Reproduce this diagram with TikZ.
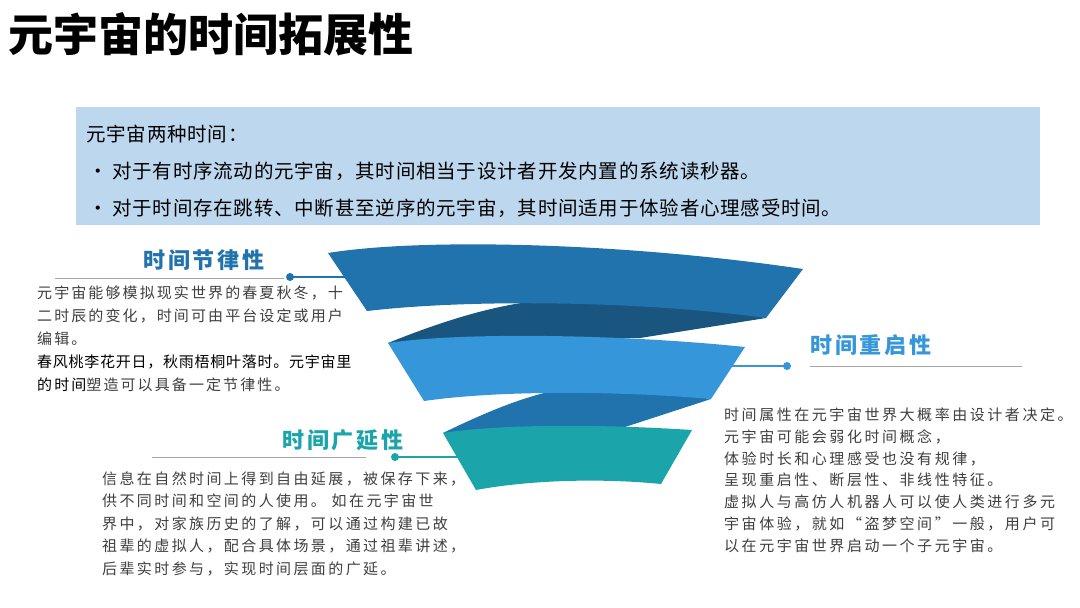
\documentclass[tikz,border=0pt]{standalone}
\usepackage{fontspec}
\setmainfont{Noto Sans CJK SC}
\definecolor{bandA}{HTML}{2173AE}
\definecolor{darkA}{HTML}{1A5580}
\definecolor{bandB}{HTML}{3597D9}
\definecolor{darkB}{HTML}{2073AD}
\definecolor{bandC}{HTML}{1BA5AB}
\definecolor{rulegray}{HTML}{A6A6A6}
\definecolor{txtgray}{HTML}{3F3F3F}
\definecolor{boxblue}{HTML}{BDD7EE}
\begin{document}
\begin{tikzpicture}[x=1pt,y=-1pt,
  body/.style={anchor=north west, inner sep=0pt, align=left, text=txtgray,
    font=\fontsize{15}{22}\selectfont},
  boxtxt/.style={anchor=west, inner sep=0pt,
    font=\fontsize{19.5}{23}\selectfont\addfontfeatures{LetterSpace=4}},
  headtxt/.style={anchor=west, inner sep=0pt,
    font=\fontsize{22}{26}\selectfont\bfseries\addfontfeatures{LetterSpace=13}},
  dotnode/.style={circle, inner sep=0pt, minimum size=8pt},
  conn/.style={line width=1.5pt},
  rulegline/.style={draw=rulegray, line width=1pt}]
\useasboundingbox (0,0) rectangle (1080,608);
\fill[white] (0,0) rectangle (1080,608);

% title
\node[anchor=west, inner sep=0pt, font=\fontsize{45}{50}\selectfont\bfseries] (title) at (8,34) {元宇宙的时间拓展性};

% top box
\fill[boxblue] (76,107) rectangle (1040,225);
\node[boxtxt] (intro) at (86,134) {元宇宙两种时间：};
\node[boxtxt] (bulA) at (88,171) {\makebox[24pt][l]{•}对于有时序流动的元宇宙，其时间相当于设计者开发内置的系统读秒器。};
\node[boxtxt] (bulB) at (88,208) {\makebox[24pt][l]{•}对于时间存在跳转、中断甚至逆序的元宇宙，其时间适用于体验者心理感受时间。};

% band anchor coordinates
\coordinate (b1l) at (350,277);
\coordinate (b2r) at (728,366);
\coordinate (b3l) at (462,457);

% connectors and rules
\draw[rulegline] (55,278) -- (284,278);
\draw[rulegline] (810,366) -- (1022,366);
\draw[rulegline] (152,457) -- (366,457);
\node[dotnode, fill=bandA] (dA) at (290,277) {};
\node[dotnode, fill=bandB] (dB) at (787,366) {};
\node[dotnode, fill=bandC] (dC) at (395,457) {};
\draw[conn, bandA] (dA.center) -- (b1l);
\draw[conn, bandB] (dB.center) -- (b2r);
\draw[conn, bandC] (dC.center) -- (b3l);

% funnel: back pieces
\fill[darkA] (388,343) .. controls (450,318) and (500,304) .. (545,300) -- (650,296) -- (766,318) -- (640,338) -- cycle;
\fill[darkB] (443,433) .. controls (480,415) and (515,400) .. (548,392) -- (640,388) -- (711,399) -- (625,427) -- cycle;
% funnel: bands
\fill[bandA] (328,253) .. controls (420,238) and (620,242) .. (803,269) -- (766,318)
  .. controls (650,302) and (480,298) .. (367,311) -- cycle;
\fill[bandB] (388,343) .. controls (460,332) and (620,334) .. (745,347) -- (711,399)
  .. controls (620,391) and (500,390) .. (424,401) -- cycle;
\fill[bandC] (443,433) .. controls (500,424) and (600,424) .. (692,430) -- (661,484)
  .. controls (600,478) and (530,480) .. (476,490) -- cycle;

% headings
\node[headtxt, text=bandA] (hA) at (143,260) {时间节律性};
\node[headtxt, text=bandB] (hB) at (810,345) {时间重启性};
\node[headtxt, text=bandC] (hC) at (282,440) {时间广延性};

% text blocks
\node[body, font=\fontsize{15}{23}\selectfont\addfontfeatures{LetterSpace=14}] (tA) at (37,285.5) {元宇宙能够模拟现实世界的春夏秋冬，十\\
二时辰的变化，时间可由平台设定或用户\\
编辑。\\
{\addfontfeatures{LetterSpace=5}\color{black}春风桃李花开日，秋雨梧桐叶落时。元宇宙里}\\
{\color{black}的时间}塑造可以具备一定节律性。};

\node[body, font=\fontsize{15}{21.8}\selectfont\addfontfeatures{LetterSpace=17}] (tB) at (724,407.5) {时间属性在元宇宙世界大概率由设计者决定。\\
元宇宙可能会弱化时间概念，\\
体验时长和心理感受也没有规律，\\
呈现重启性、断层性、非线性特征。\\
虚拟人与高仿人机器人可以使人类进行多元\\
宇宙体验，就如“盗梦空间”一般，用户可\\
以在元宇宙世界启动一个子元宇宙。};

\node[body, font=\fontsize{15}{22.5}\selectfont\addfontfeatures{LetterSpace=16}] (tC) at (102,471.5) {信息在自然时间上得到自由延展，被保存下来，\\
供不同时间和空间的人使用。 如在元宇宙世\\
界中，对家族历史的了解，可以通过构建已故\\
祖辈的虚拟人，配合具体场景，通过祖辈讲述，\\
后辈实时参与，实现时间层面的广延。};
\end{tikzpicture}
\end{document}
